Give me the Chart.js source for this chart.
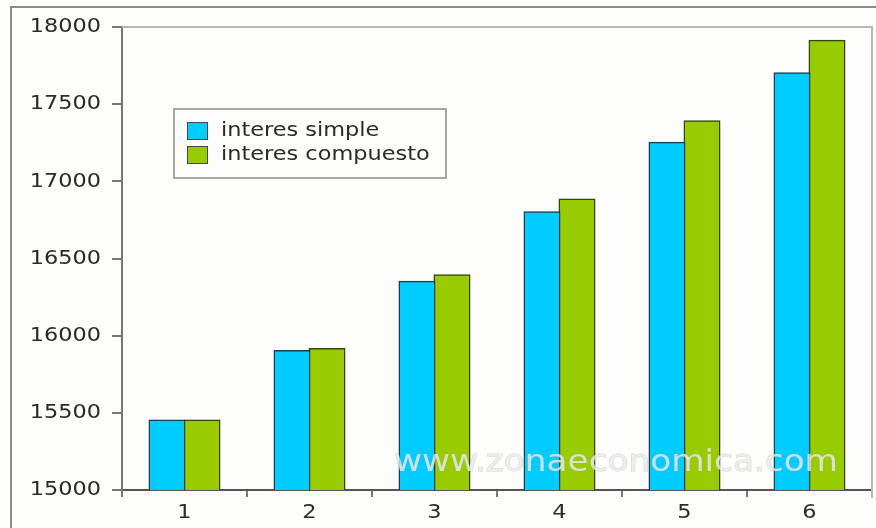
<!DOCTYPE html>
<html>
<head>
<meta charset="utf-8">
<script src="https://cdn.jsdelivr.net/npm/chart.js@4/dist/chart.umd.min.js"></script>
<style>
  html, body { margin: 0; padding: 0; background: #fdfdfb; }
  #wrap { width: 876px; height: 528px; position: relative; }
</style>
</head>
<body>
<div id="wrap"><canvas id="c" width="876" height="528"></canvas></div>
<script>
// Years and accumulated capital (15000 at 3%)
const periods = ['1', '2', '3', '4', '5', '6'];
const simpleInterest = [15450, 15900, 16350, 16800, 17250, 17700];
const compoundInterest = [15450, 15913, 16391, 16883, 17389, 17911];
const yTicks = [15000, 15500, 16000, 16500, 17000, 17500, 18000];
const seriesNames = ['interes simple', 'interes compuesto'];
const watermark = 'www.zonaeconomica.com';

const FONT = '"DejaVu Sans", Verdana, sans-serif';
const TEXT_STRETCH = 1.12;   // wide glyphs, as in the original rendering

function wideText(ctx, text, x, y, align, stretch) {
  const w = ctx.measureText(text).width * stretch;
  let x0 = x;
  if (align === 'right') x0 = x - w;
  else if (align === 'center') x0 = x - w / 2;
  ctx.save();
  ctx.translate(x0, y);
  ctx.scale(stretch, 1);
  ctx.textAlign = 'left';
  ctx.fillText(text, 0, 0);
  ctx.restore();
}

// Axis labels, frame, plot border, legend box and watermark
const decorations = {
  id: 'decorations',
  afterDatasetsDraw(chart) {
    const { ctx } = chart;
    ctx.save();
    ctx.font = '30px ' + FONT;
    const w = ctx.measureText(watermark).width;
    ctx.translate(394, 471);
    ctx.scale(444 / w, 1);
    ctx.textBaseline = 'alphabetic';
    ctx.lineWidth = 1;
    ctx.strokeStyle = 'rgba(160,160,160,0.4)';
    ctx.strokeText(watermark, 0, 0);
    ctx.fillStyle = 'rgba(235,235,235,0.8)';
    ctx.fillText(watermark, 0, 0);
    ctx.restore();
  },
  afterDraw(chart) {
    const { ctx, chartArea: a } = chart;
    const xs = chart.scales.x, ys = chart.scales.y;
    ctx.save();
    // tick labels
    ctx.fillStyle = '#2b2b2b';
    ctx.font = '20px ' + FONT;
    ctx.textBaseline = 'middle';
    yTicks.forEach(v => wideText(ctx, String(v), 101, ys.getPixelForValue(v), 'right', TEXT_STRETCH));
    ctx.textBaseline = 'top';
    periods.forEach((p, i) => wideText(ctx, p, xs.getPixelForValue(i), 503, 'center', TEXT_STRETCH));
    // outer frame
    ctx.strokeStyle = '#8a8a8a';
    ctx.lineWidth = 2;
    ctx.beginPath();
    ctx.moveTo(11, 528);
    ctx.lineTo(11, 7);
    ctx.lineTo(876, 7);
    ctx.stroke();
    // plot top and right edges
    ctx.strokeStyle = '#b8b8b8';
    ctx.beginPath();
    ctx.moveTo(a.left, a.top);
    ctx.lineTo(a.right, a.top);
    ctx.lineTo(a.right, a.bottom + 8);
    ctx.stroke();
    // legend
    const lx = 174, ly = 109, lw = 272, lh = 69;
    ctx.fillStyle = '#fdfdfb';
    ctx.fillRect(lx, ly, lw, lh);
    ctx.strokeStyle = '#8a8a8a';
    ctx.lineWidth = 1.5;
    ctx.strokeRect(lx, ly, lw, lh);
    ctx.font = '19px ' + FONT;
    ctx.textBaseline = 'middle';
    chart.data.datasets.forEach((ds, i) => {
      const sy = 122 + i * 24;
      ctx.fillStyle = ds.backgroundColor;
      ctx.fillRect(187, sy, 21, 18);
      ctx.strokeStyle = '#445';
      ctx.lineWidth = 1;
      ctx.strokeRect(187.5, sy + 0.5, 20, 17);
      ctx.fillStyle = '#2b2b2b';
      wideText(ctx, ds.label, 221, sy + 9, 'left', 1.18);
    });
    ctx.restore();
  }
};

new Chart(document.getElementById('c'), {
  type: 'bar',
  data: {
    labels: periods,
    datasets: [
      { label: seriesNames[0], data: simpleInterest, backgroundColor: '#00ccff',
        borderColor: '#1a3f4c', borderWidth: 1.5, inflateAmount: 1 },
      { label: seriesNames[1], data: compoundInterest, backgroundColor: '#99cc00',
        borderColor: '#354510', borderWidth: 1.5, inflateAmount: 1 }
    ]
  },
  options: {
    responsive: false,
    animation: false,
    devicePixelRatio: 1,
    layout: { padding: { top: 27, right: 4, left: 0, bottom: 0 } },
    plugins: { legend: { display: false }, tooltip: { enabled: false } },
    datasets: { bar: { categoryPercentage: 0.56, barPercentage: 1.0 } },
    scales: {
      x: {
        offset: true,
        grid: { offset: true, drawOnChartArea: false, drawTicks: true, tickLength: 7,
                color: '#777', lineWidth: 2 },
        border: { display: true, color: '#555', width: 2 },
        ticks: { display: false },
        afterFit(s) { s.height = 38; }
      },
      y: {
        min: 15000, max: 18000,
        afterBuildTicks(s) { s.ticks = yTicks.map(v => ({ value: v })); },
        grid: { drawOnChartArea: false, drawTicks: true, tickLength: 10,
                color: '#777', lineWidth: 2 },
        border: { display: true, color: '#777', width: 2 },
        ticks: { display: false },
        afterFit(s) { s.width = 122; }
      }
    }
  },
  plugins: [decorations]
});
</script>
</body>
</html>
